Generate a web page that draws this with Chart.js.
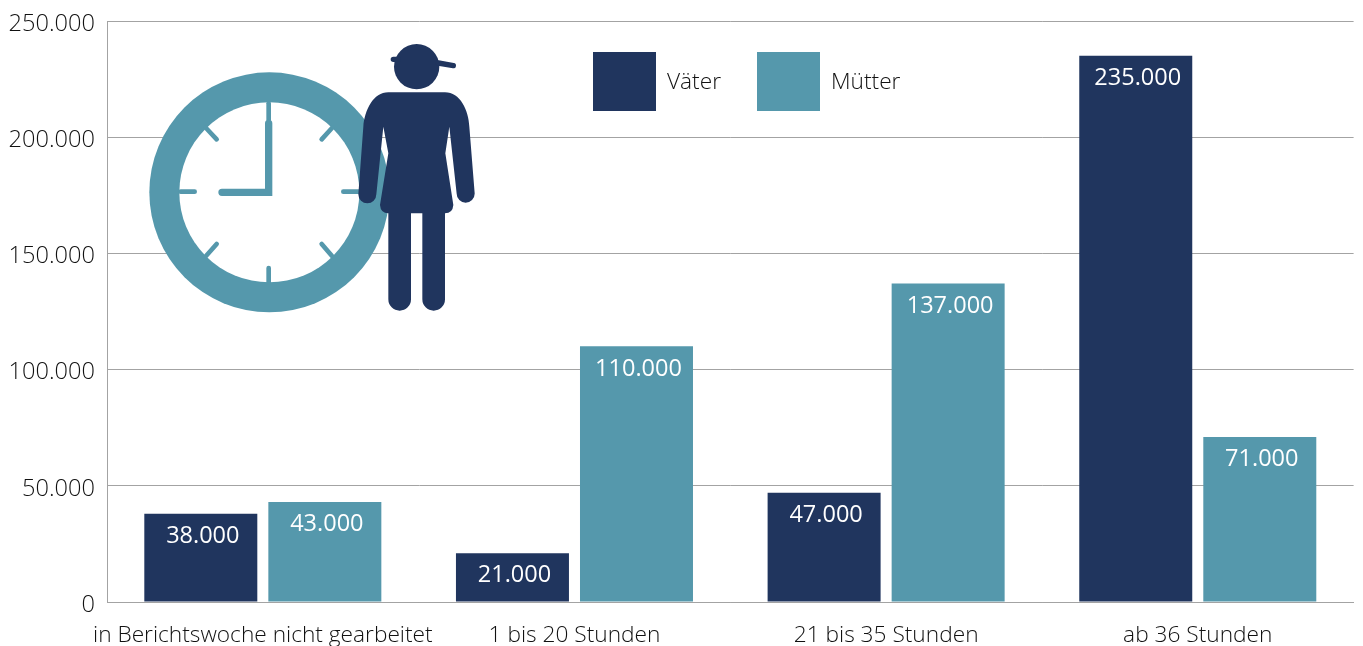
<!DOCTYPE html>
<html lang="de">
<head>
<meta charset="utf-8">
<title>Arbeitszeit von Vätern und Müttern</title>
<script src="https://cdn.jsdelivr.net/npm/chart.js@4/dist/chart.umd.min.js"></script>
<style>
  html, body { margin: 0; padding: 0; background: #fff; }
  #wrap { width: 1363px; height: 646px; position: relative; overflow: hidden; }
</style>
</head>
<body>
<div id="wrap"><canvas id="chart" width="1363" height="646"></canvas></div>
<script>
const kategorien = ["in Berichtswoche nicht gearbeitet", "1 bis 20 Stunden", "21 bis 35 Stunden", "ab 36 Stunden"];
const vaeter = [38000, 21000, 47000, 235000];
const muetter = [43000, 110000, 137000, 71000];

const DUNKEL = "#20355e";
const TEAL = "#5598ac";
const SCHRIFT = '"Open Sans", "Noto Sans", sans-serif';

function zahl(v) {
    return String(v).replace(/\B(?=(\d{3})+$)/g, ".");
}

// Werte in die Balken schreiben
const werteLabels = {
    id: "werteLabels",
    afterDatasetsDraw(chart) {
        const ctx = chart.ctx;
        ctx.save();
        ctx.font = "23.5px " + SCHRIFT;
        ctx.fillStyle = "#fff";
        ctx.textAlign = "center";
        ctx.textBaseline = "middle";
        chart.data.datasets.forEach((ds, i) => {
            chart.getDatasetMeta(i).data.forEach((bar, j) => {
                ctx.fillText(zahl(ds.data[j]), bar.x + 2, bar.y + 22.5);
            });
        });
        ctx.restore();
    }
};

// Legende liegt in der Zeichenfläche neben der Figur
const legende = {
    id: "legende",
    beforeDatasetsDraw(chart) {
        const ctx = chart.ctx;
        const spalten = [593, 757];
        ctx.save();
        ctx.font = "300 22.7px " + SCHRIFT;
        ctx.textBaseline = "middle";
        chart.data.datasets.forEach((ds, i) => {
            ctx.fillStyle = ds.backgroundColor;
            ctx.fillRect(spalten[i], 52, 63, 59);
            ctx.fillStyle = "#111";
            ctx.fillText(ds.label, spalten[i] + 74, 83);
        });
        ctx.restore();
    }
};

// Uhr und Figur, Koordinaten aus dem 3x-Ausschnitt
const piktogramm = {
    id: "piktogramm",
    beforeDatasetsDraw(chart) {
        const ctx = chart.ctx;
        ctx.save();
        ctx.translate(130, 30);
        ctx.scale(1 / 3, 1 / 3);
        ctx.lineCap = "round";

        // Uhr
        ctx.fillStyle = TEAL;
        ctx.beginPath();
        ctx.arc(418, 487, 360, 0, Math.PI * 2);
        ctx.fill();
        ctx.fillStyle = "#fff";
        ctx.beginPath();
        ctx.arc(418, 487, 270, 0, Math.PI * 2);
        ctx.fill();

        ctx.strokeStyle = TEAL;
        ctx.lineWidth = 14;
        [[416, 220, 416, 270], [416, 714, 416, 758], [152, 485, 194, 485], [640, 485, 690, 485],
         [228, 294, 260, 328], [606, 294, 575, 328], [228, 678, 260, 642], [606, 678, 575, 642]].forEach(t => {
            ctx.beginPath();
            ctx.moveTo(t[0], t[1]);
            ctx.lineTo(t[2], t[3]);
            ctx.stroke();
        });
        ctx.lineWidth = 22;
        ctx.beginPath();
        ctx.moveTo(416, 280);
        ctx.lineTo(416, 487);
        ctx.lineTo(276, 487);
        ctx.stroke();

        // Figur
        ctx.fillStyle = DUNKEL;
        ctx.strokeStyle = DUNKEL;
        ctx.beginPath();
        ctx.arc(860, 110, 68, 0, Math.PI * 2);
        ctx.fill();
        ctx.lineWidth = 16;
        ctx.beginPath();
        ctx.moveTo(925, 99);
        ctx.lineTo(970, 107);
        ctx.moveTo(790, 88);
        ctx.lineTo(805, 88);
        ctx.stroke();

        ctx.beginPath();
        ctx.moveTo(775, 187);
        ctx.lineTo(945, 187);
        ctx.bezierCurveTo(990, 187, 1016, 240, 1018, 290);
        ctx.lineTo(1034, 490);
        ctx.arc(1007, 491, 27, 0, Math.PI);
        ctx.lineTo(958, 290);
        ctx.lineTo(946, 370);
        ctx.lineTo(970, 525);
        ctx.quadraticCurveTo(968, 550, 945, 550);
        ctx.lineTo(945, 808);
        ctx.arc(911, 808, 34, 0, Math.PI);
        ctx.lineTo(877, 550);
        ctx.lineTo(843, 550);
        ctx.lineTo(843, 808);
        ctx.arc(809, 808, 34, 0, Math.PI);
        ctx.lineTo(775, 550);
        ctx.quadraticCurveTo(752, 550, 750, 525);
        ctx.lineTo(775, 370);
        ctx.lineTo(760, 290);
        ctx.lineTo(739, 493);
        ctx.arc(712, 493, 27, 0, Math.PI);
        ctx.lineTo(700, 290);
        ctx.bezierCurveTo(704, 240, 730, 187, 775, 187);
        ctx.closePath();
        ctx.fill();
        ctx.restore();
    }
};

new Chart(document.getElementById("chart"), {
    type: "bar",
    data: {
        labels: kategorien,
        datasets: [
            { label: "Väter", data: vaeter, backgroundColor: DUNKEL },
            { label: "Mütter", data: muetter, backgroundColor: TEAL }
        ]
    },
    options: {
        responsive: false,
        animation: false,
        categoryPercentage: 0.796,
        barPercentage: 0.911,
        layout: { padding: { top: 21, right: 9.4, left: 0, bottom: 0 } },
        plugins: {
            legend: { display: false },
            tooltip: { enabled: false }
        },
        scales: {
            x: {
                afterFit(s) { s.height = 44; },
                grid: { display: false },
                border: { color: "#a3a3a3", width: 1 },
                ticks: {
                    color: "#111",
                    padding: 12,
                    autoSkip: false,
                    maxRotation: 0,
                    font: { family: SCHRIFT, size: 22.7, weight: "300" }
                }
            },
            y: {
                min: 0,
                max: 250000,
                afterFit(s) { s.width = 107; s.paddingTop = 0; s.paddingBottom = 0; },
                grid: { color: "#a3a3a3", lineWidth: 1, drawTicks: false },
                border: { color: "#a3a3a3", width: 1 },
                ticks: {
                    stepSize: 50000,
                    color: "#111",
                    padding: 12,
                    labelOffset: 3,
                    callback: zahl,
                    font: { family: SCHRIFT, size: 23.6, weight: "300" }
                }
            }
        }
    },
    plugins: [legende, piktogramm, werteLabels]
});
</script>
</body>
</html>
